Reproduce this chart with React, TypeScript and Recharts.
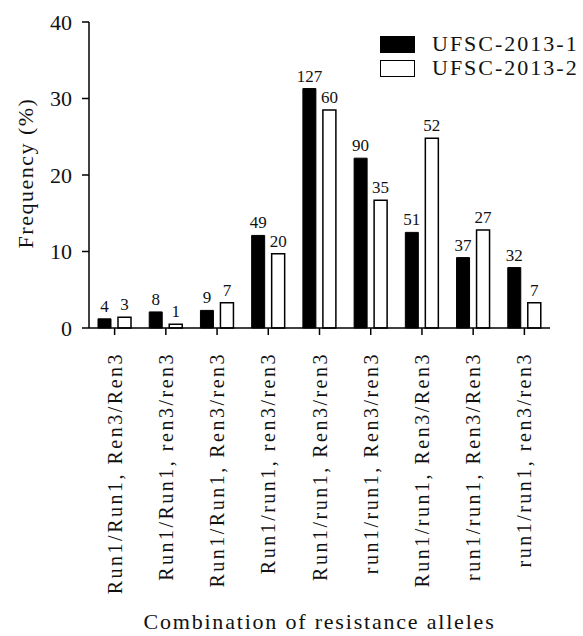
import React from 'react';
import { BarChart, Bar, XAxis, YAxis, Legend, LabelList, Label } from 'recharts';

document.body.style.margin = '0';

const categories = [
  'Run1/Run1, Ren3/Ren3',
  'Run1/Run1, ren3/ren3',
  'Run1/Run1, Ren3/ren3',
  'Run1/run1, ren3/ren3',
  'Run1/run1, Ren3/ren3',
  'run1/run1, Ren3/ren3',
  'Run1/run1, Ren3/Ren3',
  'run1/run1, Ren3/Ren3',
  'run1/run1, ren3/ren3',
];
const freq1 = [1.2, 2.1, 2.3, 12.1, 31.3, 22.2, 12.5, 9.2, 7.9];
const freq2 = [1.4, 0.5, 3.3, 9.7, 28.5, 16.7, 24.8, 12.8, 3.3];
const count1 = [4, 8, 9, 49, 127, 90, 51, 37, 32];
const count2 = [3, 1, 7, 20, 60, 35, 52, 27, 7];
const yTicks = [0, 10, 20, 30, 40];
const seriesNames = ['UFSC-2013-1', 'UFSC-2013-2'];
const seriesFills = ['#000000', '#ffffff'];

const data = categories.map((cat, i) => ({
  cat,
  f1: freq1[i],
  f2: freq2[i],
  n1: count1[i],
  n2: count2[i],
}));

const FONT = '"Liberation Serif", "Times New Roman", serif';
const INK = '#111';

const XTick = ({ x, y, payload }: any) => {
  const ty = y + 15;
  return (
    <text
      x={x}
      y={ty}
      transform={`rotate(-90, ${x}, ${ty})`}
      textAnchor="end"
      dy="0.35em"
      fontFamily={FONT}
      fontSize={20}
      letterSpacing={2.5}
      fill={INK}
    >
      {payload.value}
    </text>
  );
};

const YTitle = ({ viewBox }: any) => {
  const cx = viewBox.x + 25;
  const cy = viewBox.y + viewBox.height / 2 - 2;
  return (
    <text
      x={cx}
      y={cy}
      transform={`rotate(-90, ${cx}, ${cy})`}
      textAnchor="middle"
      dy="0.35em"
      fontFamily={FONT}
      fontSize={22}
      letterSpacing={1.5}
      fill={INK}
    >
      Frequency (%)
    </text>
  );
};

const XTitle = ({ viewBox }: any) => (
  <text
    x={viewBox.x + viewBox.width / 2}
    y={viewBox.y + 301}
    textAnchor="middle"
    fontFamily={FONT}
    fontSize={22}
    letterSpacing={1.8}
    fill={INK}
  >
    Combination of resistance alleles
  </text>
);

const LegendBox = () => (
  <div style={{ fontFamily: FONT, fontSize: 22, letterSpacing: 2, color: INK }}>
    {seriesNames.map((name, i) => (
      <div key={name} style={{ display: 'flex', alignItems: 'center', height: 24 }}>
        <div
          style={{
            width: 33,
            height: 15,
            background: seriesFills[i],
            border: '1.5px solid #000',
            marginRight: 17,
          }}
        />
        <span style={{ lineHeight: '24px' }}>{name}</span>
      </div>
    ))}
  </div>
);

const App = () => (
  <BarChart
    width={583}
    height={636}
    data={data}
    margin={{ top: 22, right: 33, bottom: 0, left: 0 }}
    barSize={13}
    barGap={7}
  >
    <XAxis
      dataKey="cat"
      height={308}
      interval={0}
      tick={<XTick />}
      tickSize={7}
      axisLine={{ stroke: '#000', strokeWidth: 1.5 }}
      tickLine={{ stroke: '#000', strokeWidth: 1.5 }}
    >
      <Label content={<XTitle />} />
    </XAxis>
    <YAxis
      width={89}
      domain={[0, 40]}
      ticks={yTicks}
      tickSize={7}
      tickMargin={10}
      axisLine={{ stroke: '#000', strokeWidth: 1.5 }}
      tickLine={{ stroke: '#000', strokeWidth: 1.5 }}
      tick={{ fontFamily: FONT, fontSize: 22, fill: INK }}
    >
      <Label content={<YTitle />} />
    </YAxis>
    <Legend
      layout="horizontal"
      verticalAlign="middle"
      align="center"
      content={<LegendBox />}
      wrapperStyle={{ top: 32, left: 380, width: 200, height: 50 }}
    />
    <Bar dataKey="f1" name={seriesNames[0]} fill={seriesFills[0]} stroke="#000" strokeWidth={1} isAnimationActive={false}>
      <LabelList dataKey="n1" position="top" offset={7} fontFamily={FONT} fontSize={17} fill={INK} />
    </Bar>
    <Bar dataKey="f2" name={seriesNames[1]} fill={seriesFills[1]} stroke="#000" strokeWidth={1.5} isAnimationActive={false}>
      <LabelList dataKey="n2" position="top" offset={7} fontFamily={FONT} fontSize={17} fill={INK} />
    </Bar>
  </BarChart>
);

export default App;
